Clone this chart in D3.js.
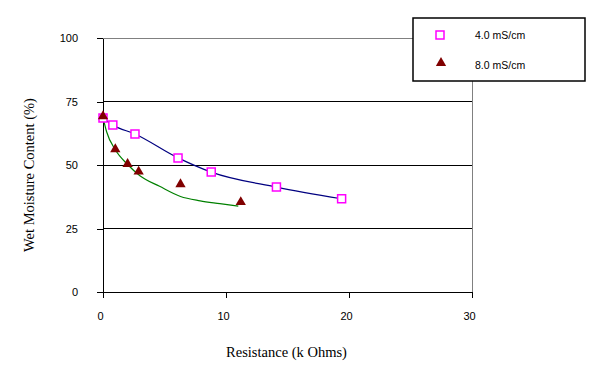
<!DOCTYPE html>
<html>
<head>
<meta charset="utf-8">
<script src="https://cdn.jsdelivr.net/npm/d3@7"></script>
<style>
    body { margin: 0; background: #fff; }
    svg { display: block; }
    .tick text { font-family: "Liberation Sans", Arial, sans-serif; font-size: 11px; fill: #000; }
</style>
</head>
<body>
<svg id="chart" width="590" height="391"></svg>
<script>
// 4.0 mS/cm readings (pink squares)
const resist4 = [0, 0.8, 2.6, 6.1, 8.8, 14.1, 19.4];
const moist4 = [68.5, 65.7, 62.2, 52.8, 47.2, 41.3, 36.7];

// 8.0 mS/cm readings (dark red triangles)
const resist8 = [0, 1.0, 2.0, 2.9, 6.3, 11.2];
const moist8 = [68.8, 55.8, 50.0, 47.0, 42.0, 35.0];

// green trend curve for 8.0 mS/cm
const fit8x = [0, 0.3, 1.0, 2.0, 3.0, 4.6, 6.3, 7.9, 9.5, 11.0];
const fit8y = [68.8, 63, 56, 50.2, 45.8, 41.6, 37.6, 35.9, 34.8, 33.8];

const xTicks = [0, 10, 20, 30];
const yTicks = [0, 25, 50, 75, 100];
const seriesNames = ['4.0 mS/cm', '8.0 mS/cm'];

const MARGIN = {top: 38, right: 118, bottom: 99, left: 103};
const WIDTH = 590, HEIGHT = 391;

const svg = d3.select('#chart');

const xScale = d3.scaleLinear()
    .domain([0, 30])
    .range([MARGIN.left, WIDTH - MARGIN.right]);

const yScale = d3.scaleLinear()
    .domain([0, 100])
    .range([HEIGHT - MARGIN.bottom, MARGIN.top]);

// gridlines (the 100 line is part of the grey frame)
svg.append('g')
    .attr('shape-rendering', 'crispEdges')
    .selectAll('line')
    .data(yTicks.filter(d => d > 0 && d < 100))
    .join('line')
    .attr('x1', xScale(0))
    .attr('x2', xScale(30))
    .attr('y1', d => yScale(d))
    .attr('y2', d => yScale(d))
    .attr('stroke', '#000')
    .attr('stroke-width', 1);

// grey frame top + right
svg.append('path')
    .attr('d', `M${xScale(0)},${yScale(100)}H${xScale(30)}V${yScale(0)}`)
    .attr('fill', 'none')
    .attr('stroke', '#808080')
    .attr('shape-rendering', 'crispEdges')
    .attr('stroke-width', 1);

// axes
const xAxis = d3.axisBottom(xScale)
    .tickValues(xTicks)
    .tickSize(6)
    .tickPadding(14)
    .tickSizeOuter(0);
const gx = svg.append('g')
    .attr('transform', `translate(0, ${yScale(0)})`)
    .call(xAxis);
gx.selectAll('.tick text').attr('dx', -3);

const yAxis = d3.axisLeft(yScale)
    .tickValues(yTicks)
    .tickSize(6)
    .tickPadding(19)
    .tickSizeOuter(0);
const gy = svg.append('g')
    .attr('transform', `translate(${xScale(0)}, 0)`)
    .call(yAxis);

svg.selectAll('.domain, .tick line')
    .attr('stroke', '#000')
    .attr('shape-rendering', 'crispEdges')
    .attr('stroke-width', 1);

// lines
const pts4 = resist4.map((r, i) => [r, moist4[i]]);
const pts8 = resist8.map((r, i) => [r, moist8[i]]);
const fit8 = fit8x.map((r, i) => [r, fit8y[i]]);

const line = d3.line()
    .x(d => xScale(d[0]))
    .y(d => yScale(d[1]))
    .curve(d3.curveMonotoneX);

svg.append('path')
    .attr('d', line(pts4))
    .attr('fill', 'none')
    .attr('stroke', '#000080')
    .attr('stroke-width', 1.2);

svg.append('path')
    .attr('d', line(fit8))
    .attr('fill', 'none')
    .attr('stroke', '#008000')
    .attr('stroke-width', 1.2);

// markers
const square = d3.symbol().type(d3.symbolSquare).size(64);
const triangle = d3.symbol().type(d3.symbolTriangle).size(46);

svg.append('g')
    .selectAll('path')
    .data(pts4)
    .join('path')
    .attr('d', square)
    .attr('transform', d => `translate(${xScale(d[0])}, ${yScale(d[1])})`)
    .attr('fill', '#fff')
    .attr('stroke', '#ff00ff')
    .attr('stroke-width', 1.5);

svg.append('g')
    .selectAll('path')
    .data(pts8)
    .join('path')
    .attr('d', triangle)
    .attr('transform', d => `translate(${xScale(d[0])}, ${yScale(d[1]) - 1})`)
    .attr('fill', '#800000');

// axis titles
svg.append('text')
    .attr('x', (xScale(0) + xScale(30)) / 2 - 1)
    .attr('y', 357)
    .attr('text-anchor', 'middle')
    .style('font-family', '"Liberation Serif", "Times New Roman", serif')
    .style('font-size', '14.5px')
    .text('Resistance (k Ohms)');

svg.append('text')
    .attr('transform', 'translate(34, 175) rotate(-90)')
    .attr('text-anchor', 'middle')
    .style('font-family', '"Liberation Serif", "Times New Roman", serif')
    .style('font-size', '14.5px')
    .text('Wet Moisture Content (%)');

// legend
const legend = svg.append('g');
legend.append('rect')
    .attr('x', 413)
    .attr('y', 18)
    .attr('width', 172)
    .attr('height', 63)
    .attr('fill', '#fff')
    .attr('stroke', '#000')
    .attr('stroke-width', 1.5);

legend.append('path')
    .attr('d', square)
    .attr('transform', 'translate(440, 35)')
    .attr('fill', '#fff')
    .attr('stroke', '#ff00ff')
    .attr('stroke-width', 1.5);
legend.append('path')
    .attr('d', triangle)
    .attr('transform', 'translate(441, 63)')
    .attr('fill', '#800000');

legend.selectAll('text')
    .data(seriesNames)
    .join('text')
    .attr('x', 475)
    .attr('y', (d, i) => 39 + i * 30)
    .style('font-family', '"Liberation Sans", Arial, sans-serif')
    .style('font-size', '10.5px')
    .text(d => d);
</script>
</body>
</html>
